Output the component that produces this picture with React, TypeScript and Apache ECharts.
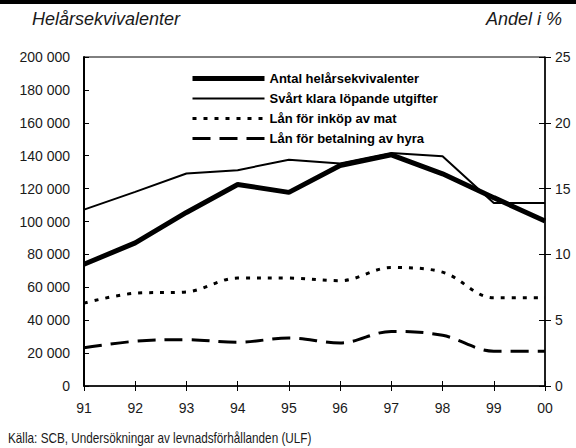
import React, { useEffect, useRef } from "react";
import * as echarts from "echarts";

const years = ["91", "92", "93", "94", "95", "96", "97", "98", "99", "00"];
const antalHelar = [74000, 87000, 105500, 122500, 117700, 134000, 140500, 129000, 114500, 100300];
const svartKlara = [13.4, 14.75, 16.15, 16.4, 17.2, 16.9, 17.7, 17.45, 13.9, 13.9];
const lanMat = [6.3, 7.05, 7.15, 8.2, 8.2, 8.0, 9.0, 8.65, 6.7, 6.7];
const lanHyra = [2.9, 3.4, 3.52, 3.32, 3.65, 3.27, 4.15, 3.85, 2.65, 2.65];

const leftTitle = "Helårsekvivalenter";
const rightTitle = "Andel i %";
const source = "Källa: SCB, Undersökningar av levnadsförhållanden (ULF)";
const names = [
  "Antal helårsekvivalenter",
  "Svårt klara löpande utgifter",
  "Lån för inköp av mat",
  "Lån för betalning av hyra",
];

const FONT = "'Liberation Sans', Arial, sans-serif";

const fmt = (v: number) => String(v).replace(/\B(?=(\d{3})+(?!\d))/g, " ");

export default function App() {
  const ref = useRef<HTMLDivElement>(null);
  useEffect(() => {
    if (!ref.current) return;
    const chart = echarts.init(ref.current, undefined, { renderer: "svg" });
    const axisText = { color: "#1a1a1a", fontFamily: FONT, fontSize: 14 };
    const legendStyles = [
      { width: 5, type: "solid" },
      { width: 2, type: "solid" },
      { width: 3, type: [4, 7] },
      { width: 3, type: [18, 9] },
    ];
    chart.setOption({
      animation: false,
      backgroundColor: "#fff",
      grid: {
        left: 84,
        right: 31,
        top: 57,
        bottom: 62,
        show: true,
        borderColor: "#000",
        borderWidth: 1,
      },
      graphic: [
        { type: "rect", left: 0, top: 0, shape: { width: 576, height: 4 }, style: { fill: "#000" } },
        {
          type: "text",
          left: 32,
          top: 10,
          style: { text: leftTitle, fontFamily: FONT, fontStyle: "italic", fontSize: 18, fill: "#1a1a1a" },
        },
        {
          type: "text",
          right: 14,
          top: 10,
          style: { text: rightTitle, fontFamily: FONT, fontStyle: "italic", fontSize: 18, fill: "#1a1a1a" },
        },
        {
          type: "text",
          x: 8,
          y: 431,
          scaleX: 0.84,
          style: { text: source, fontFamily: FONT, fontSize: 14, fill: "#1a1a1a" },
        },
      ],
      legend: {
        orient: "vertical",
        left: 185,
        top: 67,
        itemWidth: 72,
        itemHeight: 14,
        itemGap: 7,
        data: names.map((n, i) => ({
          name: n,
          itemStyle: { opacity: 0 },
          lineStyle: { color: "#000", ...legendStyles[i] },
        })),
        textStyle: { fontFamily: FONT, fontSize: 13, fontWeight: "bold", color: "#000" },
      },
      xAxis: [
        {
          type: "category",
          data: years,
          boundaryGap: false,
          axisLine: { lineStyle: { color: "#000", width: 1.5 } },
          axisTick: { length: 5, lineStyle: { color: "#000" } },
          axisLabel: { ...axisText, margin: 15 },
        },
        {
          type: "category",
          data: years,
          position: "bottom",
          boundaryGap: false,
          axisLine: { show: false },
          axisTick: { inside: true, length: 5, lineStyle: { color: "#000" } },
          axisLabel: { show: false },
        },
      ],
      yAxis: [
        {
          type: "value",
          min: 0,
          max: 200000,
          interval: 20000,
          position: "left",
          splitLine: { show: false },
          axisLine: { show: true, lineStyle: { color: "#000", width: 2 } },
          axisTick: { show: true, inside: true, length: 5, lineStyle: { color: "#000" } },
          axisLabel: { ...axisText, margin: 14, formatter: fmt },
        },
        {
          type: "value",
          min: 0,
          max: 25,
          interval: 5,
          position: "right",
          splitLine: { show: false },
          axisLine: { show: true, lineStyle: { color: "#000", width: 1.5 } },
          axisTick: { show: true, length: 6, lineStyle: { color: "#000" } },
          axisLabel: { ...axisText, margin: 10 },
        },
        {
          type: "value",
          min: 0,
          max: 25,
          interval: 5,
          position: "right",
          splitLine: { show: false },
          axisLine: { show: false },
          axisTick: { show: true, inside: true, length: 6, lineStyle: { color: "#000" } },
          axisLabel: { show: false },
        },
      ],
      series: [
        {
          name: names[0],
          type: "line",
          yAxisIndex: 0,
          data: antalHelar,
          symbol: "none",
          color: "#000",
          lineStyle: { color: "#000", width: 5 },
          z: 5,
        },
        {
          name: names[1],
          type: "line",
          yAxisIndex: 1,
          data: svartKlara,
          symbol: "none",
          color: "#000",
          lineStyle: { color: "#000", width: 2 },
          z: 4,
        },
        {
          name: names[2],
          type: "line",
          yAxisIndex: 1,
          data: lanMat,
          symbol: "none",
          smooth: 0.35,
          color: "#000",
          lineStyle: { color: "#000", width: 3, type: [4, 7] },
        },
        {
          name: names[3],
          type: "line",
          yAxisIndex: 1,
          data: lanHyra,
          symbol: "none",
          smooth: 0.35,
          color: "#000",
          lineStyle: { color: "#000", width: 3, type: [18, 9] },
        },
      ],
    });
    return () => chart.dispose();
  }, []);
  return (
    <div
      ref={ref}
      style={{ position: "fixed", left: 0, top: 0, width: 576, height: 448, background: "#fff" }}
    />
  );
}
